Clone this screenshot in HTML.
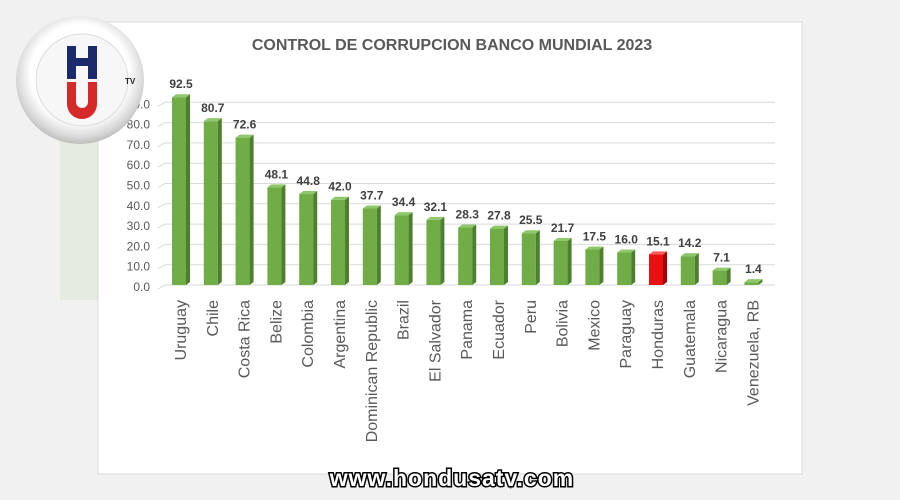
<!DOCTYPE html>
<html><head><meta charset="utf-8"><style>
html,body{margin:0;padding:0;width:900px;height:500px;overflow:hidden;background:#efefef;}
svg{display:block}
</style></head><body>
<svg width="900" height="500" viewBox="0 0 900 500" xmlns="http://www.w3.org/2000/svg" font-family="Liberation Sans, sans-serif">
<defs>
<radialGradient id="ring" cx="50%" cy="45%" r="55%"><stop offset="0.7" stop-color="#ffffff"/><stop offset="0.9" stop-color="#d8d8d8"/><stop offset="1" stop-color="#bdbdbd"/></radialGradient>
<linearGradient id="bgl" x1="0" x2="1"><stop offset="0" stop-color="#f4f4f4"/><stop offset="1" stop-color="#e6ebe3"/></linearGradient>
</defs>
<rect x="0" y="0" width="900" height="500" fill="#f1f1f1"/>
<rect x="60" y="100" width="40" height="200" fill="#e4ebe0"/>
<rect x="98" y="22" width="704" height="452" fill="#ffffff" stroke="#d9d9d9"/>
<text x="452" y="50" text-anchor="middle" font-size="16" font-weight="bold" fill="#595959">CONTROL DE CORRUPCION BANCO MUNDIAL 2023</text>
<g id="grid" stroke="#d9d9d9" stroke-width="1" fill="none"></g>
<g id="ticks" font-size="12" fill="#595959" text-anchor="end"></g>
<g id="bars"></g>
<g id="vals" font-size="12" font-weight="bold" fill="#404040" text-anchor="middle"></g>
<g id="labs" font-size="16" fill="#595959"></g>
<circle cx="80" cy="80" r="64" fill="url(#ring)"/>
<circle cx="82" cy="80" r="46" fill="#f7f7f7" stroke="#dcdcdc"/>
<rect x="67" y="46" width="9" height="33" fill="#1b2a6b"/><rect x="88" y="46" width="9" height="33" fill="#1b2a6b"/><rect x="67" y="58" width="30" height="8" fill="#1b2a6b"/>
<path d="M67 82 h9 v20 a6 6 0 0 0 12 0 v-20 h9 v22 a15 15 0 0 1 -30 0z" fill="#d62a2a"/>
<text x="125" y="84" font-size="8" font-weight="bold" fill="#222">TV</text>
<text x="452" y="486" text-anchor="middle" font-size="23" font-weight="bold" fill="#fff" stroke="#000" stroke-width="3" paint-order="stroke" letter-spacing="1">www.hondusatv.com</text>
</svg>
<script>
const data=[["Uruguay",92.5],["Chile",80.7],["Costa Rica",72.6],["Belize",48.1],["Colombia",44.8],["Argentina",42.0],["Dominican Republic",37.7],["Brazil",34.4],["El Salvador",32.1],["Panama",28.3],["Ecuador",27.8],["Peru",25.5],["Bolivia",21.7],["Mexico",17.5],["Paraguay",16.0],["Honduras",15.1],["Guatemala",14.2],["Nicaragua",7.1],["Venezuela, RB",1.4]];
const ns="http://www.w3.org/2000/svg";
function el(p,t,a,txt){const e=document.createElementNS(ns,t);for(const k in a)e.setAttribute(k,a[k]);if(txt!=null)e.textContent=txt;document.getElementById(p).appendChild(e);return e;}
const y0=285,s=2.03;
for(let v=0;v<=90;v+=10){const y=y0-v*s;el("grid","line",{x1:165,y1:y,x2:775,y2:y});el("grid","line",{x1:158,y1:y+4,x2:165,y2:y});el("ticks","text",{x:150,y:y+6},v.toFixed(1));}
data.forEach((d,i)=>{const cx=180+i*31.8,h=d[1]*s,top=y0-h;const red=d[0]=="Honduras";
const f=red?"#e81010":"#70ad47",sd=red?"#a80000":"#4d7f2e",tp=red?"#ff5a5a":"#8fc86a";
el("bars","rect",{x:cx-8,y:top,width:14,height:h,fill:f});
el("bars","polygon",{points:`${cx+6},${top} ${cx+10},${top-3} ${cx+10},${y0-3} ${cx+6},${y0}`,fill:sd});
el("bars","polygon",{points:`${cx-8},${top} ${cx-4},${top-3} ${cx+10},${top-3} ${cx+6},${top}`,fill:tp});
el("vals","text",{x:cx+1,y:top-9},d[1].toFixed(1));
el("labs","text",{x:0,y:0,transform:`translate(${cx+6},300) rotate(-90)`,"text-anchor":"end"},d[0]);});
</script>
</body></html>
